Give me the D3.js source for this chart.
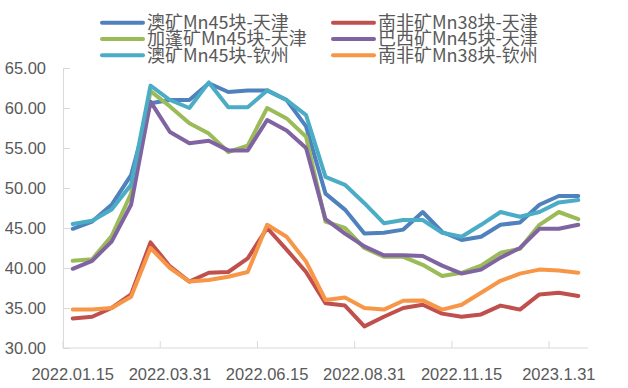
<!DOCTYPE html>
<html>
<head>
<meta charset="utf-8">
<script src="https://cdn.jsdelivr.net/npm/d3@7"></script>
<style>
  html, body { margin: 0; padding: 0; background: #fff; }
  svg { display: block; }
</style>
</head>
<body>
<div id="chart"></div>
<script>
// categories (half-month dates)
var dates = ['2022.01.15', '2022.01.31', '2022.02.15', '2022.02.28', '2022.03.15', '2022.03.31',
    '2022.04.15', '2022.04.30', '2022.05.15', '2022.05.31', '2022.06.15', '2022.06.30',
    '2022.07.15', '2022.07.31', '2022.08.15', '2022.08.31', '2022.09.15', '2022.09.30',
    '2022.10.15', '2022.10.31', '2022.11.15', '2022.11.30', '2022.12.15', '2022.12.31',
    '2023.1.15', '2023.1.31', '2023.2.15'];

// series values
var aoTianjin = [44.9, 45.8, 47.9, 51.6, 60.6, 61.0, 61.0, 63.1, 62.0, 62.2, 62.2, 61.0, 57.7, 49.3,
    47.3, 44.3, 44.4, 44.8, 47.0, 44.5, 43.5, 43.9, 45.4, 45.7, 47.9, 49.0, 49.0];
var nfTianjin = [33.7, 33.9, 35.0, 36.7, 43.2, 40.2, 38.3, 39.4, 39.5, 41.2, 45.0, 42.3, 39.5, 35.6,
    35.3, 32.7, 33.9, 35.0, 35.4, 34.3, 33.9, 34.2, 35.3, 34.8, 36.7, 36.9, 36.5];
var jpTianjin = [40.9, 41.1, 44.0, 49.3, 62.1, 60.2, 58.1, 56.8, 54.5, 55.3, 60.0, 58.7, 56.4, 45.8,
    45.0, 42.5, 41.4, 41.4, 40.4, 39.0, 39.4, 40.3, 41.9, 42.4, 45.4, 47.0, 46.1];
var bxTianjin = [39.9, 40.9, 43.3, 47.9, 60.8, 57.0, 55.6, 55.9, 54.7, 54.7, 58.5, 57.2, 55.0, 46.1,
    44.3, 42.7, 41.6, 41.6, 41.5, 40.3, 39.3, 39.8, 41.3, 42.5, 44.9, 44.9, 45.4];
var aoQinzhou = [45.5, 45.9, 47.3, 50.4, 62.8, 61.0, 60.0, 63.2, 60.1, 60.1, 62.2, 61.0, 59.1, 51.4,
    50.4, 48.1, 45.6, 46.0, 46.0, 44.4, 43.9, 45.4, 47.0, 46.4, 47.0, 48.2, 48.5];
var nfQinzhou = [34.8, 34.8, 35.0, 36.4, 42.5, 40.0, 38.3, 38.5, 38.9, 39.5, 45.4, 43.9, 40.8, 36.0,
    36.3, 35.0, 34.8, 35.9, 35.95, 34.8, 35.4, 36.9, 38.4, 39.3, 39.8, 39.7, 39.4];

var seriesNames = ['澳矿Mn45块-天津', '南非矿Mn38块-天津', '加蓬矿Mn45块-天津',
    '巴西矿Mn45块-天津', '澳矿Mn45块-钦州', '南非矿Mn38块-钦州'];
var seriesValues = [aoTianjin, nfTianjin, jpTianjin, bxTianjin, aoQinzhou, nfQinzhou];
var yTicks = [30, 35, 40, 45, 50, 55, 60, 65];

var width = 628, height = 388;
var plot = { left: 63, right: 588, top: 68, bottom: 348 };

var colors = d3.scaleOrdinal()
    .domain(seriesNames)
    .range(['#4f81bd', '#c0504d', '#9bbb59', '#8064a2', '#4bacc6', '#f79646']);

var svg = d3.select('#chart')
    .append('svg')
    .attr('width', width)
    .attr('height', height);

var x = d3.scaleBand()
    .domain(dates)
    .range([plot.left, plot.right])
    .padding(0);

var y = d3.scaleLinear()
    .domain([30, 65])
    .range([plot.bottom, plot.top]);

// Y axis (ticks point inward)
var yAxis = svg.append('g')
    .attr('transform', 'translate(' + plot.left + ',0)')
    .call(d3.axisLeft(y)
        .tickValues(yTicks)
        .tickSizeInner(-7)
        .tickSizeOuter(0)
        .tickPadding(17)
        .tickFormat(d3.format('.2f')));
yAxis.select('.domain').attr('stroke', '#d9d9d9');
yAxis.selectAll('.tick line').attr('stroke', '#d9d9d9');
yAxis.selectAll('.tick text')
    .attr('fill', '#595959')
    .style('font-family', '"Liberation Sans", Arial, sans-serif')
    .style('font-size', '16.5px');

// X axis: line, tick marks at every 5th category boundary, labels at category centres
var xAxis = svg.append('g');
xAxis.append('line')
    .attr('x1', plot.left)
    .attr('x2', plot.right)
    .attr('y1', plot.bottom)
    .attr('y2', plot.bottom)
    .attr('stroke', '#d9d9d9');

var labelDates = dates.filter(function(d, i) { return i % 5 === 0; });

xAxis.selectAll('.xtick')
    .data(labelDates)
    .enter()
    .append('line')
    .attr('class', 'xtick')
    .attr('x1', function(d) { return x(d); })
    .attr('x2', function(d) { return x(d); })
    .attr('y1', plot.bottom)
    .attr('y2', plot.bottom - 7)
    .attr('stroke', '#d9d9d9');

xAxis.selectAll('.xlabel')
    .data(labelDates)
    .enter()
    .append('text')
    .attr('class', 'xlabel')
    .attr('x', function(d) { return x(d) + x.bandwidth() / 2; })
    .attr('y', 380)
    .attr('text-anchor', 'middle')
    .attr('fill', '#595959')
    .style('font-family', '"Liberation Sans", Arial, sans-serif')
    .style('font-size', '16.5px')
    .text(function(d) { return d; });

// lines
var line = d3.line()
    .x(function(d, i) { return x(dates[i]) + x.bandwidth() / 2; })
    .y(function(d) { return y(d); });

svg.append('g')
    .selectAll('path')
    .data(seriesValues)
    .enter()
    .append('path')
    .attr('d', function(d) { return line(d); })
    .attr('fill', 'none')
    .attr('stroke', function(d, i) { return colors(seriesNames[i]); })
    .attr('stroke-width', 4)
    .attr('stroke-linejoin', 'round')
    .attr('stroke-linecap', 'round');

// legend: two columns, filled row by row
var legend = svg.append('g')
    .selectAll('g')
    .data(seriesNames)
    .enter()
    .append('g')
    .attr('transform', function(d, i) {
        var col = i % 2, row = Math.floor(i / 2);
        return 'translate(' + (col === 0 ? 102 : 333) + ',' + (22.7 + row * 16.3) + ')';
    });

legend.append('line')
    .attr('x1', 0)
    .attr('x2', 41)
    .attr('stroke', function(d) { return colors(d); })
    .attr('stroke-width', 4)
    .attr('stroke-linecap', 'round');

legend.append('text')
    .attr('x', 45)
    .attr('dy', '0.36em')
    .attr('fill', '#595959')
    .style('font-family', '"Noto Sans CJK SC", sans-serif')
    .style('font-size', '18px')
    .text(function(d) { return d; });
</script>
</body>
</html>
